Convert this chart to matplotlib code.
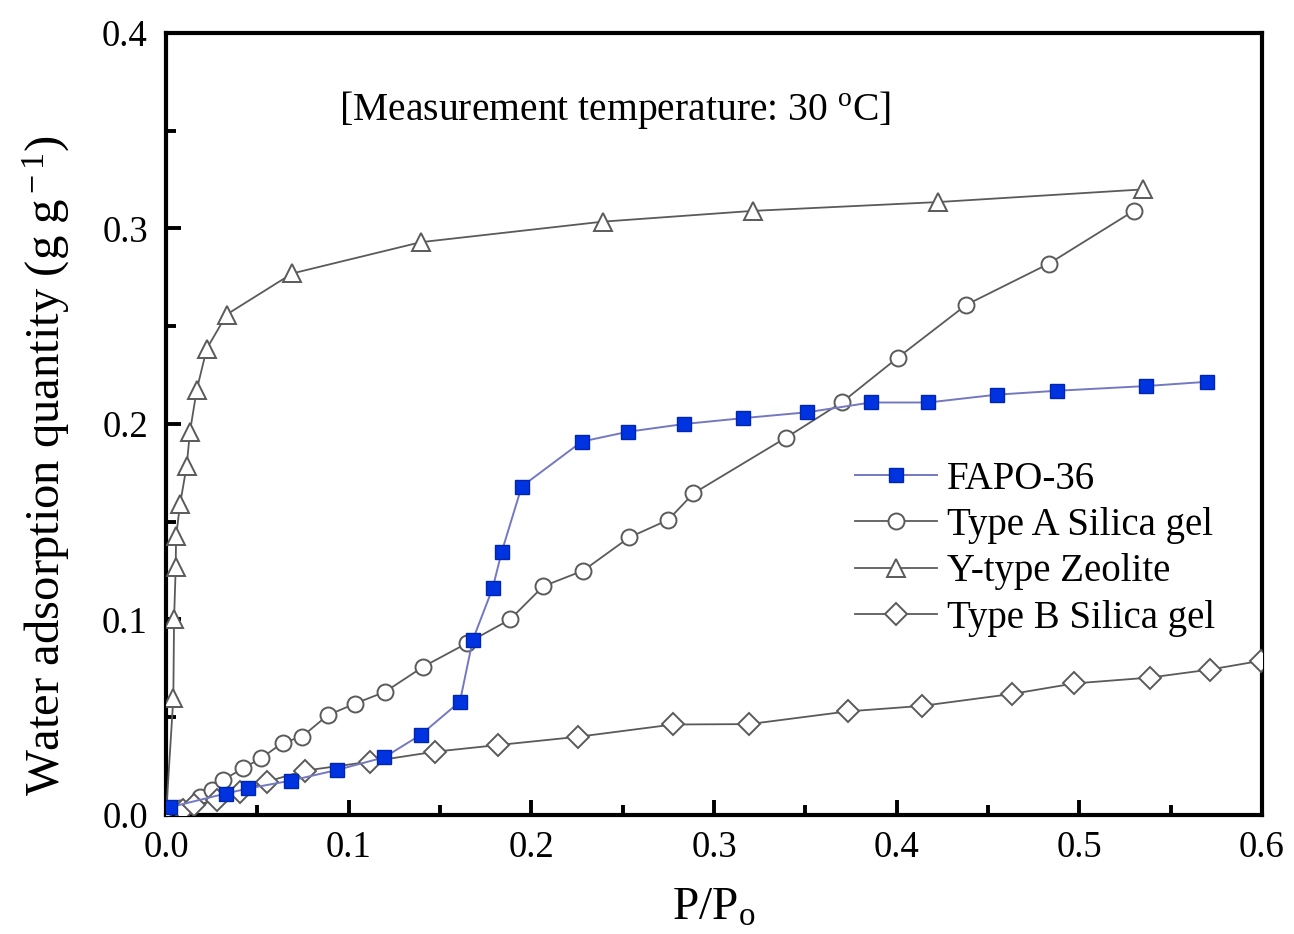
import numpy as np
import matplotlib
matplotlib.use("Agg")
from matplotlib import pyplot as plt
from matplotlib.ticker import MultipleLocator

plt.rcParams['font.family'] = ['Liberation Serif', 'DejaVu Serif']
plt.rcParams['mathtext.fontset'] = 'custom'
plt.rcParams['mathtext.rm'] = 'Liberation Serif'
plt.rcParams['mathtext.it'] = 'Liberation Serif:italic'

# FAPO-36 (filled blue squares)
fapo_x = [0.0022, 0.0328, 0.0451, 0.0684, 0.0934, 0.1195, 0.1394, 0.1609, 0.1679,
          0.1788, 0.1838, 0.1947, 0.2276, 0.2527, 0.2837, 0.3160, 0.3511, 0.3859,
          0.4173, 0.4548, 0.4878, 0.5364, 0.5701]
fapo_y = [0.004, 0.011, 0.0136, 0.0176, 0.023, 0.0295, 0.041, 0.058, 0.0895,
          0.116, 0.1347, 0.168, 0.191, 0.196, 0.200, 0.203, 0.206, 0.211,
          0.211, 0.215, 0.217, 0.2194, 0.2216]

# Type A silica gel (open circles)
silA_x = [0.0077, 0.0186, 0.0250, 0.0314, 0.0423, 0.0520, 0.0639, 0.0743, 0.0885,
          0.1035, 0.1199, 0.1409, 0.1646, 0.1883, 0.2065, 0.2284, 0.2536, 0.2750,
          0.2887, 0.3394, 0.3699, 0.4007, 0.4382, 0.4833, 0.5298]
silA_y = [0.0034, 0.0094, 0.0128, 0.018, 0.024, 0.029, 0.037, 0.040, 0.051,
          0.057, 0.063, 0.0759, 0.0878, 0.100, 0.117, 0.125, 0.142, 0.151,
          0.1645, 0.193, 0.211, 0.234, 0.261, 0.282, 0.309]

# Y-type zeolite (open triangles)
zeo_x = [0.0, 0.0040, 0.0044, 0.0053, 0.0055, 0.0077, 0.0113, 0.0131, 0.0168,
         0.0223, 0.0332, 0.0691, 0.1395, 0.2392, 0.3212, 0.4224, 0.5349]
zeo_y = [0.0, 0.0597, 0.100, 0.1267, 0.1425, 0.159, 0.1786, 0.196, 0.2174,
         0.2385, 0.256, 0.277, 0.293, 0.3035, 0.309, 0.3135, 0.320]

# Type B silica gel (open diamonds)
silB_x = [0.0095, 0.0155, 0.0278, 0.0405, 0.0551, 0.0761, 0.1117, 0.1473, 0.1819,
          0.2254, 0.2777, 0.3193, 0.3732, 0.4137, 0.4630, 0.4972, 0.5387, 0.5715,
          0.5994]
silB_y = [0.0026, 0.005, 0.0077, 0.012, 0.017, 0.0227, 0.0273, 0.0324, 0.0358,
          0.040, 0.0463, 0.0465, 0.053, 0.0558, 0.0619, 0.0673, 0.0703, 0.0744,
          0.0789]

gray = '#5a5a5a'

fig = plt.figure(figsize=(12.94, 9.34), dpi=100)
ax = fig.add_axes([0.1283, 0.1274, 0.8470, 0.8373])

ax.plot(fapo_x, fapo_y, '-', color='#7478c0', lw=1.4, marker='s', ms=10.5,
        mfc='#0033e0', mec='#0026b0', mew=1, label='FAPO-36', zorder=4)
ax.plot(silA_x, silA_y, '-', color=gray, lw=1.3, marker='o', ms=11.5,
        mfc='white', mec=gray, mew=1.4, label='Type A Silica gel', zorder=3)
ax.plot(zeo_x, zeo_y, '-', color=gray, lw=1.3, marker='^', ms=13,
        mfc='white', mec=gray, mew=1.4, label='Y-type Zeolite', zorder=3)
ax.plot(silB_x, silB_y, '-', color=gray, lw=1.3, marker='D', ms=11,
        mfc='white', mec=gray, mew=1.4, label='Type B Silica gel', zorder=3)

ax.set_xlim(0, 0.6)
ax.set_ylim(0, 0.4)
ax.xaxis.set_major_locator(MultipleLocator(0.1))
ax.xaxis.set_minor_locator(MultipleLocator(0.05))
ax.yaxis.set_major_locator(MultipleLocator(0.1))
ax.yaxis.set_minor_locator(MultipleLocator(0.05))
ax.xaxis.set_major_formatter(matplotlib.ticker.FormatStrFormatter('%.1f'))
ax.yaxis.set_major_formatter(matplotlib.ticker.FormatStrFormatter('%.1f'))
ax.tick_params(which='both', direction='in', top=False, right=False, width=2.8)
ax.tick_params(which='major', length=11, labelsize=26.5)
ax.tick_params(which='minor', length=7)
ax.tick_params(axis='x', which='major', pad=11)
ax.tick_params(axis='y', which='major', pad=13)
for sp in ax.spines.values():
    sp.set_linewidth(3)

ax.set_ylabel(r'Water adsorption quantity (g g$^{\rm -1}$)', fontsize=35)
ax.yaxis.set_label_coords(-0.086, 0.446)
ax.set_xlabel(r'P/P$_{\rm o}$', fontsize=34, va='top')
ax.xaxis.set_label_coords(0.5, -0.092)

ax.text(0.41, 0.9015, r'[Measurement temperature: 30 $^{\rm o}$C]', fontsize=28.5,
        ha='center', va='center', transform=ax.transAxes)

ax.legend(loc='upper left', bbox_to_anchor=(0.629, 0.453), frameon=False,
          fontsize=28, handlelength=2.1, handletextpad=0.25, labelspacing=0.24,
          borderpad=0, borderaxespad=0)

fig.savefig('out.png', dpi=100)
